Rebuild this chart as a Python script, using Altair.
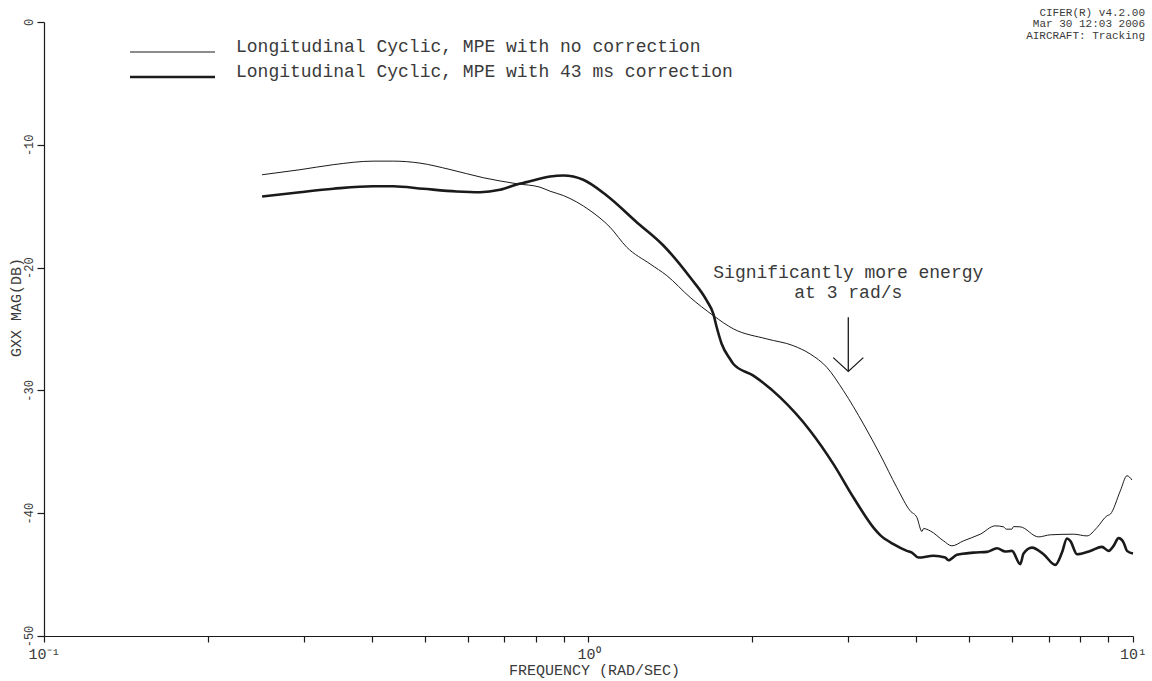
import altair as alt
import pandas as pd

FONT = "Liberation Mono"
INK = "#1a1a1a"
TXT = "#3a3a3a"

# ---- data (frequency in rad/s, magnitude in dB) ----
freq_nocorr = [0.2515, 0.2951, 0.3398, 0.4023, 0.4380, 0.4903, 0.5566, 0.6408, 0.7381,
               0.8145, 0.8500, 0.8990, 1.0064, 1.0952, 1.1755, 1.2972, 1.3925, 1.5365,
               1.6955, 1.8455, 2.1262, 2.3781, 2.5527, 2.7397, 2.9389, 3.1989, 3.4336,
               3.6840, 3.8979, 4.0100, 4.0960, 4.124, 4.2424, 4.487, 4.649, 4.883, 5.242,
               5.585, 5.784, 5.851, 5.993, 6.034, 6.207, 6.707, 7.047, 7.778, 8.231,
               8.587, 8.958, 9.085, 9.478, 9.750, 9.958]
db_nocorr = [-12.44, -12.03, -11.62, -11.33, -11.33, -11.49, -12.01, -12.68, -13.17,
             -13.45, -13.78, -14.13, -15.35, -16.71, -18.34, -19.70, -20.65, -22.42,
             -23.91, -24.99, -25.81, -26.36, -27.03, -28.12, -30.02, -32.74, -35.24,
             -37.91, -39.81, -40.35, -41.49, -41.25, -41.44, -42.25, -42.66, -42.25, -41.71,
             -41.03, -41.11, -41.30, -41.30, -41.09, -41.11, -41.93, -41.76, -41.71, -41.85,
             -41.17, -40.21, -40.08, -38.18, -36.95, -37.30]

freq_corr = [0.2515, 0.2951, 0.3398, 0.4023, 0.4380, 0.4971, 0.5726, 0.6319, 0.6877,
             0.7381, 0.7699, 0.8500, 0.8990, 0.9782, 1.080, 1.226, 1.3725, 1.5365,
             1.649, 1.6955, 1.7198, 1.7566, 1.8197, 1.8455, 2.008, 2.2487, 2.5527,
             2.8175, 3.0664, 3.3371, 3.4336, 3.632, 3.843, 3.925, 4.036, 4.301, 4.519,
             4.583, 4.749, 5.096, 5.393, 5.627, 5.826, 5.993, 6.207, 6.295, 6.522,
             6.850, 7.198, 7.405, 7.564, 7.671, 7.891, 8.347, 8.770, 9.020, 9.213,
             9.408, 9.610, 9.750, 10.0]
db_corr = [-14.21, -13.86, -13.58, -13.37, -13.37, -13.58, -13.80, -13.86, -13.66,
           -13.23, -13.04, -12.58, -12.50, -12.85, -14.13, -16.30, -18.20, -20.79,
           -22.69, -23.77, -24.86, -26.22, -27.44, -27.85, -28.80, -30.57, -33.28,
           -36.00, -38.72, -41.17, -41.79, -42.52, -43.07, -43.21, -43.61, -43.47, -43.61,
           -43.83, -43.39, -43.21, -43.15, -42.85, -43.12, -43.07, -44.15, -43.29, -42.80,
           -43.34, -44.21, -43.21, -42.06, -42.25, -43.34, -43.07, -42.74, -43.07, -42.66,
           -42.03, -42.39, -43.07, -43.29]

series_names = ["Longitudinal Cyclic, MPE with no correction",
                "Longitudinal Cyclic, MPE with 43 ms correction"]

x_tick_values = [0.1, 0.2, 0.3, 0.4, 0.5, 0.6, 0.7, 0.8, 0.9,
                 1, 2, 3, 4, 5, 6, 7, 8, 9, 10]
y_tick_values = [-50, -40, -30, -20, -10, 0]

annot_lines = ["Significantly more energy", "at 3 rad/s"]
annot_x = [3, 3]
annot_y = [-20.4, -22.03]

arrow_shaft_x = [3, 3]
arrow_shaft_y = [-24.05, -28.45]
arrow_head_x = [2.815, 3.0, 3.197]
arrow_head_y = [-27.33, -28.45, -27.33]

stamp_lines = ["CIFER(R) v4.2.00", "Mar 30 12:03 2006", "AIRCRAFT: Tracking"]

# ---- tables ----
df = pd.concat([
    pd.DataFrame({"freq": freq_nocorr, "db": db_nocorr, "series": series_names[0]}),
    pd.DataFrame({"freq": freq_corr, "db": db_corr, "series": series_names[1]}),
])
df_annot = pd.DataFrame({"freq": annot_x, "db": annot_y, "t": annot_lines})
df_shaft = pd.DataFrame({"freq": arrow_shaft_x, "db": arrow_shaft_y, "o": [0, 1]})
df_head = pd.DataFrame({"freq": arrow_head_x, "db": arrow_head_y, "o": [0, 1, 2]})
one = pd.DataFrame({"k": [0]})

x_label_expr = ("datum.value == 0.1 ? '10\u207b\u00b9' : datum.value == 1 ? '10\u2070' : "
                "datum.value == 10 ? '10\u00b9' : ''")

xscale = alt.Scale(type="log", domain=[0.1, 10], nice=False)
yscale = alt.Scale(domain=[-50, 0], nice=False)

xenc = alt.X("freq:Q", scale=xscale, axis=alt.Axis(
    values=x_tick_values, labelExpr=x_label_expr, title="FREQUENCY (RAD/SEC)",
    grid=False, tickSize=6, labelFont=FONT, labelFontSize=15, labelPadding=4,
    labelColor=TXT, labelFlush=False, labelOverlap=False,
    titleFont=FONT, titleFontSize=15, titleFontWeight="normal", titleColor=TXT,
    titleX=550, titleY=33, titleAlign="center", titleBaseline="middle",
    domainColor=INK, tickColor=INK, domainWidth=1.2, tickWidth=1.2))
yenc = alt.Y("db:Q", scale=yscale, axis=alt.Axis(
    values=y_tick_values, labelExpr="'' + datum.value", title="GXX MAG(DB)",
    grid=False, tickSize=7, labelFont=FONT, labelFontSize=12, labelPadding=2,
    labelAngle=270, labelAlign="center", labelBaseline="bottom",
    labelColor=TXT, labelOverlap=False, labelFlush=False,
    titleFont=FONT, titleFontSize=15, titleFontWeight="normal", titleColor=TXT,
    titleAngle=270, titleX=-29, titleY=285, titleAlign="center", titleBaseline="middle",
    domainColor=INK, tickColor=INK, domainWidth=1.2, tickWidth=1.2))

base = alt.Chart(df)
thin = base.transform_filter(alt.datum.series == series_names[0]).mark_line(
    color=INK, strokeWidth=1.0, interpolate="monotone").encode(x=xenc, y=yenc)
thick = base.transform_filter(alt.datum.series == series_names[1]).mark_line(
    color=INK, strokeWidth=2.6, interpolate="monotone").encode(x="freq:Q", y="db:Q")

annot = alt.Chart(df_annot).mark_text(
    font=FONT, fontSize=18, color=TXT, align="center", baseline="middle"
).encode(x="freq:Q", y="db:Q", text="t:N")
shaft = alt.Chart(df_shaft).mark_line(color=INK, strokeWidth=1.3).encode(
    x="freq:Q", y="db:Q", order="o:Q")
head = alt.Chart(df_head).mark_line(color=INK, strokeWidth=1.3).encode(
    x="freq:Q", y="db:Q", order="o:Q")

# legend (manual, top left)
leg_rule1 = alt.Chart(one).mark_rule(color=INK, strokeWidth=1.0).encode(
    x=alt.value(86), x2=alt.value(171), y=alt.value(30))
leg_rule2 = alt.Chart(one).mark_rule(color=INK, strokeWidth=2.6).encode(
    x=alt.value(86), x2=alt.value(171), y=alt.value(55))
leg_txt1 = alt.Chart(pd.DataFrame({"t": [series_names[0]]})).mark_text(
    font=FONT, fontSize=18, color=TXT, align="left", baseline="alphabetic"
).encode(x=alt.value(192), y=alt.value(30), text="t:N")
leg_txt2 = alt.Chart(pd.DataFrame({"t": [series_names[1]]})).mark_text(
    font=FONT, fontSize=18, color=TXT, align="left", baseline="alphabetic"
).encode(x=alt.value(192), y=alt.value(55), text="t:N")

# stamp in the top right corner, one text per line
stamp_layers = []
for i, line in enumerate(stamp_lines):
    stamp_layers.append(
        alt.Chart(pd.DataFrame({"t": [line]})).mark_text(
            font=FONT, fontSize=11, color=TXT, align="right", baseline="middle"
        ).encode(x=alt.value(1101), y=alt.value(-9.5 + 11.5 * i), text="t:N")
    )

chart = alt.layer(
    thin, thick, annot, shaft, head, leg_rule1, leg_rule2, leg_txt1, leg_txt2,
    *stamp_layers
).properties(
    width=1089, height=614,
    autosize=alt.AutoSizeParams(type="none"),
    padding={"left": 44, "top": 22, "right": 19, "bottom": 45},
    background="white",
).configure_view(stroke=None)

chart.save("out.html", embed_options={"renderer": "svg", "actions": False})
